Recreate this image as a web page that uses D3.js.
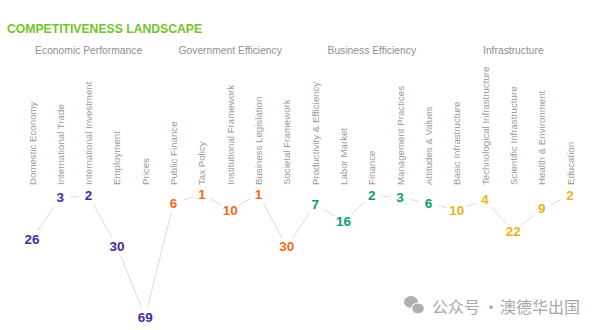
<!DOCTYPE html>
<html>
<head>
<meta charset="utf-8">
<script src="https://cdn.jsdelivr.net/npm/d3@7"></script>
<style>
  html, body { margin: 0; padding: 0; background: #fff; }
  svg { display: block; font-family: "Liberation Sans", Arial, Helvetica, sans-serif; }
</style>
</head>
<body>
<svg id="chart" width="600" height="330"></svg>
<script>
// Pillar groups, their factor names and ranks
const groups = ["Economic Performance", "Government Efficiency", "Business Efficiency", "Infrastructure"];
const groupColors = ["#4b2a9e", "#f26a1c", "#0a9e6c", "#e9b422"];

const economicFactors = ["Domestic Economy", "International Trade", "International Investment", "Employment", "Prices"];
const economicRanks = [26, 3, 2, 30, 69];

const governmentFactors = ["Public Finance", "Tax Policy", "Institutional Framework", "Business Legislation", "Societal Framework"];
const governmentRanks = [6, 1, 10, 1, 30];

const businessFactors = ["Productivity & Efficiency", "Labor Market", "Finance", "Management Practices", "Attitudes & Values"];
const businessRanks = [7, 16, 2, 3, 6];

const infraFactors = ["Basic Infrastructure", "Technological Infrastructure", "Scientific Infrastructure", "Health & Environment", "Education"];
const infraRanks = [10, 4, 22, 9, 2];

const factorSets = [economicFactors, governmentFactors, businessFactors, infraFactors];
const rankSets = [economicRanks, governmentRanks, businessRanks, infraRanks];

// Flatten into one ordered list of points
const points = [];
factorSets.forEach((names, g) => {
  names.forEach((name, i) => points.push({ name, rank: rankSets[g][i], group: g }));
});

const svg = d3.select("#chart");

const x = d3.scalePoint().domain(points.map(d => d.name)).range([32, 570]).padding(0);
const y = d3.scaleLinear().domain([1, 69]).range([194, 317]);

// Title
svg.append("text")
  .attr("x", 7).attr("y", 33)
  .attr("font-size", 12.2).attr("font-weight", "bold")
  .attr("fill", "#72c52a")
  .text("COMPETITIVENESS LANDSCAPE");

// Group headings, centred over the middle factor of each pillar
svg.selectAll("text.group")
  .data(groups)
  .join("text")
  .attr("class", "group")
  .attr("x", (d, g) => x(factorSets[g][2]))
  .attr("y", 54)
  .attr("text-anchor", "middle")
  .attr("font-size", 10.3)
  .attr("fill", "#8f8f8f")
  .text(d => d);

// Vertical factor labels
svg.selectAll("text.factor")
  .data(points)
  .join("text")
  .attr("class", "factor")
  .attr("transform", d => `translate(${x(d.name)},185) rotate(-90)`)
  .attr("dominant-baseline", "central")
  .attr("font-size", 9.7)
  .attr("fill", "#9a9a9a")
  .text(d => d.name);

// Connecting segments, trimmed so they stop short of the rank numbers
const gap = 10;
const segs = d3.pairs(points).map(([a, b]) => {
  const x1 = x(a.name), y1 = y(a.rank), x2 = x(b.name), y2 = y(b.rank);
  const len = Math.hypot(x2 - x1, y2 - y1);
  const ux = (x2 - x1) / len, uy = (y2 - y1) / len;
  return { x1: x1 + ux * gap, y1: y1 + uy * gap, x2: x2 - ux * gap, y2: y2 - uy * gap };
});

svg.selectAll("line.seg")
  .data(segs)
  .join("line")
  .attr("class", "seg")
  .attr("x1", d => d.x1).attr("y1", d => d.y1)
  .attr("x2", d => d.x2).attr("y2", d => d.y2)
  .attr("stroke", "#dcdcdc")
  .attr("stroke-width", 1);

// Rank numbers
svg.selectAll("text.rank")
  .data(points)
  .join("text")
  .attr("class", "rank")
  .attr("x", d => x(d.name))
  .attr("y", d => y(d.rank))
  .attr("text-anchor", "middle")
  .attr("dominant-baseline", "central")
  .attr("font-size", 13.5)
  .attr("font-weight", "bold")
  .attr("fill", d => groupColors[d.group])
  .text(d => d.rank);

// Account badge in the lower right corner
const badge = svg.append("g").attr("fill", "#b0b0b0");
badge.append("ellipse").attr("cx", 411).attr("cy", 302).attr("rx", 7).attr("ry", 6);
badge.append("ellipse").attr("cx", 418).attr("cy", 308.5).attr("rx", 6.5).attr("ry", 5.5)
  .attr("stroke", "#fff").attr("stroke-width", 1.2);
const badgeText = badge.append("g")
  .attr("font-family", "'Noto Sans CJK SC', sans-serif")
  .attr("font-size", 16)
  .attr("fill", "#a8a8a8");
badgeText.append("text").attr("x", 432).attr("y", 306)
  .attr("dominant-baseline", "central").text("公众号");
badgeText.append("text").attr("x", 491).attr("y", 306)
  .attr("text-anchor", "middle").attr("dominant-baseline", "central").text("·");
badgeText.append("text").attr("x", 500).attr("y", 306)
  .attr("dominant-baseline", "central").text("澳德华出国");
</script>
</body>
</html>
